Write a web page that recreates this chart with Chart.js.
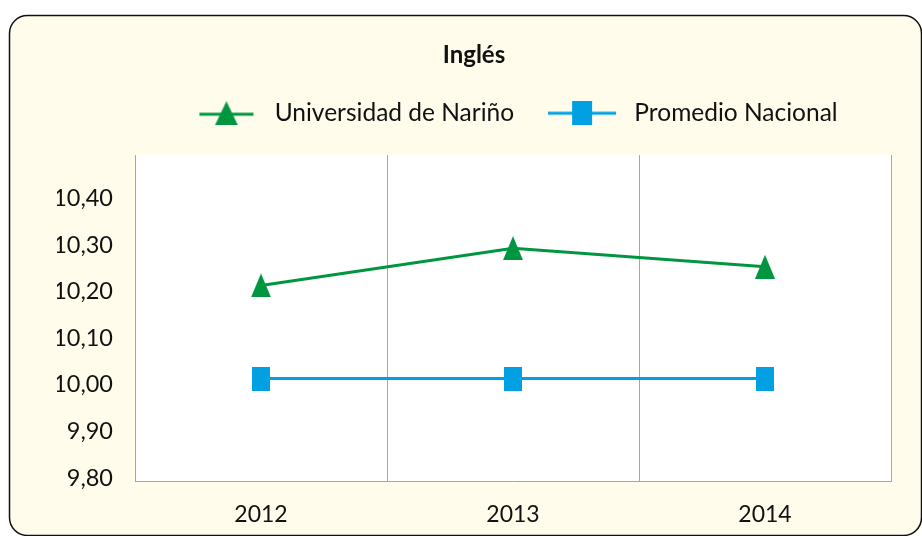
<!DOCTYPE html>
<html><head><meta charset="utf-8">
<script src="https://cdn.jsdelivr.net/npm/chart.js@4"></script>
<style>html,body{margin:0;padding:0;background:#fff}#wrap{width:922px;height:536px}</style>
</head><body><div id="wrap"><canvas id="c" width="922" height="536"></canvas></div>
<script>
const chartTitle = 'Inglés';
const categories = ['2012', '2013', '2014'];
const seriesNames = ['Universidad de Nariño', 'Promedio Nacional'];
const udenarValues = [10.22, 10.30, 10.26];
const nacionalValues = [10.02, 10.02, 10.02];
const yTickValues = [9.8, 9.9, 10.0, 10.1, 10.2, 10.3, 10.4];

const GREEN = '#00963f';
const BLUE = '#00a0e3';
const FONT = 'Lato, "Open Sans", sans-serif';

function mk(w, h, draw) { const c = document.createElement('canvas'); c.width = w; c.height = h; draw(c.getContext('2d')); return c; }
function tri(ctx, cx, w, h) { ctx.beginPath(); ctx.moveTo(cx, 0); ctx.lineTo(cx + w / 2, h); ctx.lineTo(cx - w / 2, h); ctx.closePath(); ctx.fill(); }

const triMarker = mk(20, 24, ctx => { ctx.fillStyle = GREEN; tri(ctx, 10, 20, 24); });
const sqMarker = mk(18, 24, ctx => { ctx.fillStyle = BLUE; ctx.fillRect(0, 0, 18, 24); });
const legTri = mk(74, 24, ctx => {
  ctx.strokeStyle = GREEN; ctx.lineWidth = 3; ctx.beginPath(); ctx.moveTo(11, 13); ctx.lineTo(65, 13); ctx.stroke();
  ctx.fillStyle = GREEN; tri(ctx, 38, 23, 24);
});
const legSq = mk(74, 24, ctx => {
  ctx.strokeStyle = BLUE; ctx.lineWidth = 3; ctx.beginPath(); ctx.moveTo(0, 12); ctx.lineTo(68, 12); ctx.stroke();
  ctx.fillStyle = BLUE; ctx.fillRect(24, 0, 20, 24);
});
const legendImgs = [legTri, legSq];

const bgPlugin = {
  id: 'bg',
  beforeDraw(chart) {
    const ctx = chart.ctx;
    ctx.save();
    ctx.fillStyle = '#ffffff';
    ctx.fillRect(0, 0, chart.width, chart.height);
    ctx.beginPath();
    ctx.roundRect(9.5, 15.5, 912, 520, 18);
    ctx.fillStyle = '#fffcec';
    ctx.fill();
    ctx.lineWidth = 1.5;
    ctx.strokeStyle = '#111';
    ctx.stroke();
    const a = chart.chartArea;
    ctx.fillStyle = '#ffffff';
    ctx.fillRect(a.left, a.top, a.right - a.left, a.bottom - a.top);
    ctx.restore();
  }
};
const legendSpace = {
  id: 'legendSpace',
  beforeInit(chart) {
    const orig = chart.legend.fit;
    chart.legend.fit = function () { orig.bind(chart.legend)(); this.height += 19.5; };
  }
};

function build() {
  new Chart(document.getElementById('c'), {
    type: 'line',
    data: {
      labels: categories,
      datasets: [
        { label: seriesNames[0], data: udenarValues, borderColor: GREEN, backgroundColor: GREEN, borderWidth: 3, pointStyle: triMarker, tension: 0 },
        { label: seriesNames[1], data: nacionalValues, borderColor: BLUE, backgroundColor: BLUE, borderWidth: 3, pointStyle: sqMarker, tension: 0 }
      ]
    },
    options: {
      responsive: false,
      animation: false,
      layout: { padding: { top: 10, left: 57, right: 31, bottom: 0 } },
      plugins: {
        tooltip: { enabled: false },
        title: { display: true, text: chartTitle, color: '#111', font: { family: FONT, size: 24, weight: 'bold', lineHeight: 1 }, padding: { top: 33, bottom: 0 } },
        legend: {
          display: true, position: 'top', fullSize: false,
          labels: {
            usePointStyle: true, pointStyleWidth: 74, padding: 34, color: '#111',
            font: { family: FONT, size: 24.5 },
            generateLabels: chart => chart.data.datasets.map((ds, i) => ({
              text: ds.label, pointStyle: legendImgs[i], datasetIndex: i, hidden: false,
              fontColor: '#111', lineWidth: 0, strokeStyle: 'rgba(0,0,0,0)', fillStyle: 'rgba(0,0,0,0)'
            }))
          }
        }
      },
      scales: {
        x: {
          offset: true,
          grid: { display: true, offset: true, color: '#a6a6a6', lineWidth: 1, drawTicks: false },
          border: { display: true, color: '#a6a6a6', width: 1 },
          ticks: { padding: 20, color: '#111', font: { family: FONT, size: 23 } },
          afterFit(s) { s.height = 55; }
        },
        y: {
          min: 9.8, max: 10.5,
          grid: { display: false, drawTicks: false },
          border: { display: true, color: '#a6a6a6', width: 1 },
          ticks: { padding: 22, labelOffset: -3, color: '#111', font: { family: FONT, size: 23.5 },
            callback: v => Number(v).toFixed(2).replace('.', ',') },
          afterBuildTicks(s) { s.ticks = yTickValues.map(v => ({ value: v })); },
          afterFit(s) { s.width = 78; }
        }
      }
    },
    plugins: [bgPlugin, legendSpace]
  });
}
if (document.fonts && document.fonts.load) {
  Promise.all([document.fonts.load('23px Lato'), document.fonts.load('bold 24px Lato')]).then(build, build);
} else build();
</script>
</body></html>
